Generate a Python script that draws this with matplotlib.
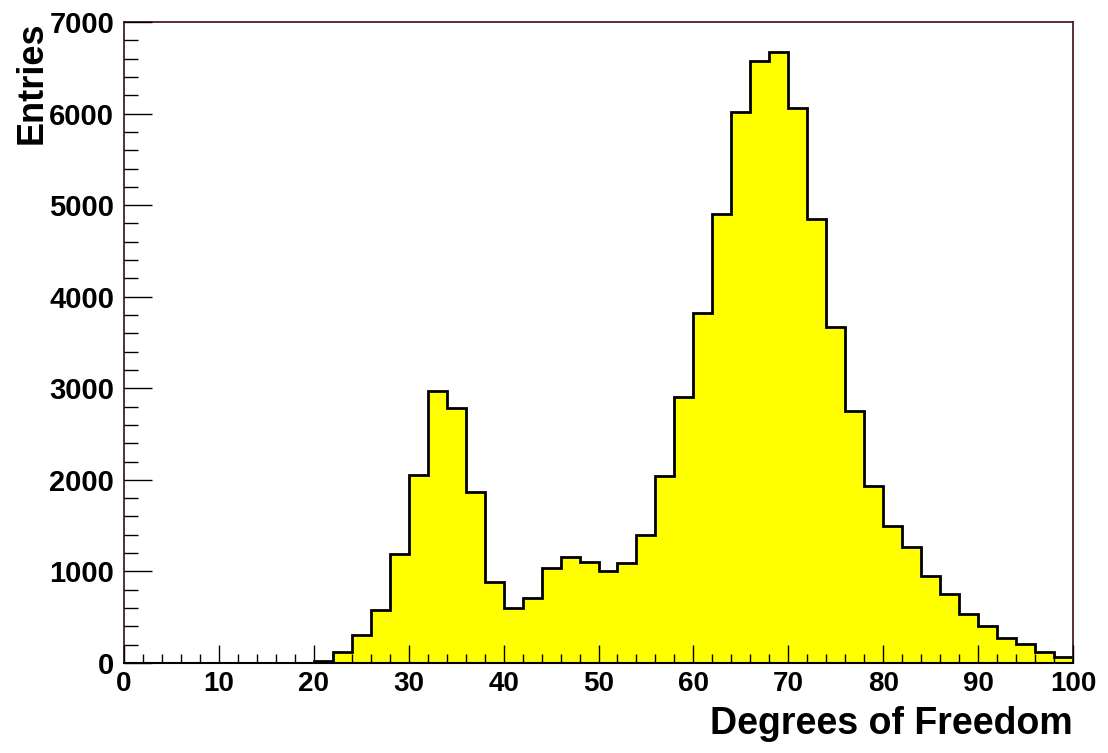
import numpy as np
import matplotlib.pyplot as plt
from matplotlib.ticker import MultipleLocator

# bin edges 0..100, width 2
bin_edges = list(range(0, 102, 2))
entries = [0, 0, 0, 0, 0, 0, 0, 0, 0, 0,
           20, 115, 310, 580, 1190, 2050, 2970, 2780, 1870, 890,
           600, 710, 1040, 1160, 1100, 1000, 1090, 1400, 2040, 2910,
           3820, 4900, 6020, 6570, 6670, 6060, 4850, 3670, 2750, 1930,
           1500, 1270, 950, 750, 530, 400, 270, 210, 120, 70]
x_label = "Degrees of Freedom"
y_label = "Entries"

plt.rcParams['font.family'] = ['Liberation Sans', 'DejaVu Sans']
plt.rcParams['font.weight'] = 'bold'

fig = plt.figure(figsize=(11.08, 7.53), dpi=100)
ax = fig.add_axes([124 / 1108, 1 - 663 / 753, (1073 - 124) / 1108, (663 - 22) / 753])

ax.stairs(entries, bin_edges, fill=True, color='#ffff00', zorder=1)
ax.stairs(entries, bin_edges, color='black', linewidth=2.0, zorder=2)

ax.set_xlim(0, 100)
ax.set_ylim(0, 7000)

ax.xaxis.set_major_locator(MultipleLocator(10))
ax.xaxis.set_minor_locator(MultipleLocator(2))
ax.yaxis.set_major_locator(MultipleLocator(1000))
ax.yaxis.set_minor_locator(MultipleLocator(200))

ax.tick_params(axis='x', which='major', direction='in', length=13, width=1.0,
               labelsize=20, pad=6, top=False)
ax.tick_params(axis='x', which='minor', direction='in', length=6.5, width=1.0, top=False)
ax.tick_params(axis='y', which='major', direction='in', length=20, width=1.0,
               labelsize=21, pad=7, right=False)
ax.tick_params(axis='y', which='minor', direction='in', length=10, width=1.0, right=False)

for lab in ax.get_xticklabels() + ax.get_yticklabels():
    lab.set_fontweight('bold')

frame_col = '#4a2020'
for side in ['top', 'right', 'left']:
    ax.spines[side].set_color(frame_col)
    ax.spines[side].set_linewidth(1.3)
ax.spines['bottom'].set_color('black')
ax.spines['bottom'].set_linewidth(1.5)
ax.set_axisbelow(False)

ax.set_xlabel(x_label, loc='right', fontsize=27, fontweight='bold', labelpad=6)
ax.set_ylabel(y_label, loc='top', fontsize=26, fontweight='bold', labelpad=0)

fig.savefig('out.png', dpi=100)
